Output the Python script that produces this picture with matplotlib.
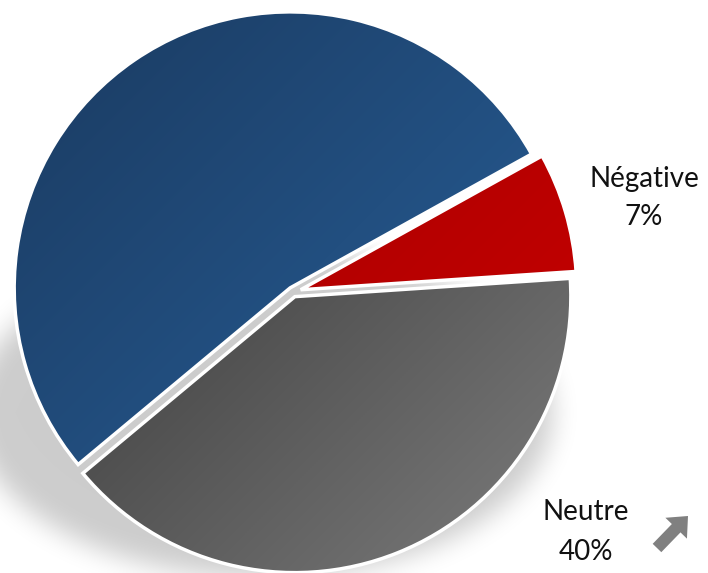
import numpy as np
import matplotlib
matplotlib.use("Agg")
import matplotlib.pyplot as plt
from matplotlib.patches import Wedge, FancyArrow
from matplotlib.colors import to_rgb

# data (counter-clockwise from the top-right edge)
labels = ["Positive", "Neutre", "Négative"]
values = [53, 40, 7]
pct_text = ["53%", "40%", "7%"]
# gradient (start, end) colours per slice, top-left -> bottom-right
grad_colors = [("#1a3a60", "#2a64a0"),
               ("#262626", "#7e7e7e"),
               ("#9c0000", "#cc0000")]

W, H = 708, 573
cx, cy = 293, H - 292
R = 276


def blur(img, r, n=3):
    # cheap gaussian-ish blur: repeated box filter
    out = img.copy()
    k = np.ones(2 * r + 1) / (2 * r + 1)
    for _ in range(n):
        out = np.apply_along_axis(lambda m: np.convolve(m, k, mode="same"), 0, out)
        out = np.apply_along_axis(lambda m: np.convolve(m, k, mode="same"), 1, out)
    return out


fig = plt.figure(figsize=(W / 100, H / 100), dpi=100)
ax = fig.add_axes([0, 0, 1, 1])

# soft drop shadow (squashed ellipse, down-left)
pad = 80
yy2, xx2 = np.mgrid[-pad:H + pad, -pad:W + pad]
mask = (((xx2 - 262) / 290.0) ** 2 + ((yy2 - 412) / 165.0) ** 2 <= 1).astype(float)
sh = blur(mask, 12)[pad:-pad, pad:-pad]
rgba = np.zeros((H, W, 4))
rgba[..., 3] = sh * 0.2
ax.imshow(rgba, extent=(0, W, 0, H), origin="upper", zorder=1, interpolation="bilinear")

# explode is in data units (pixels here)
wedges, _ = ax.pie(values, center=(cx, cy), radius=R, startangle=29,
                   counterclock=True, explode=[5, 5, 8],
                   wedgeprops=dict(linewidth=0, zorder=2), frame=True)
ax.set_aspect("equal")

# linear gradient over pie bbox
gx = np.linspace(0, 1, 200)
t = (gx[None, :] + gx[:, None]) / 2  # row 0 = top
for w, (c0, c1) in zip(wedges, grad_colors):
    a, b = np.array(to_rgb(c0)), np.array(to_rgb(c1))
    img = a[None, None, :] * (1 - t[..., None]) + b[None, None, :] * t[..., None]
    im = ax.imshow(img, extent=(cx - R - 10, cx + R + 10, cy - R - 10, cy + R + 10),
                   origin="upper", zorder=3, interpolation="bilinear")
    im.set_clip_path(w)
    ax.add_patch(Wedge(w.center, w.r, w.theta1, w.theta2, fill=False,
                       edgecolor="white", linewidth=2.5, zorder=4))

ax.set_xlim(0, W)
ax.set_ylim(0, H)
ax.axis("off")

# labels (Positive label lies outside the crop)
font = ["Lato", "DejaVu Sans"]
kw = dict(ha="center", va="baseline", fontsize=20, family=font,
          color="#111111", zorder=5)
ax.text(644, H - 187, labels[2], **kw)
ax.text(644, H - 225, pct_text[2], **kw)
ax.text(586, H - 520, labels[1], **kw)
ax.text(586, H - 560, pct_text[1], **kw)

# little grey arrow icon
ax.add_patch(FancyArrow(657, H - 548, 31, 32, width=12, head_width=30,
                        head_length=17, length_includes_head=True,
                        color="#808080", linewidth=0, zorder=5))

fig.savefig("out.png", dpi=100)
